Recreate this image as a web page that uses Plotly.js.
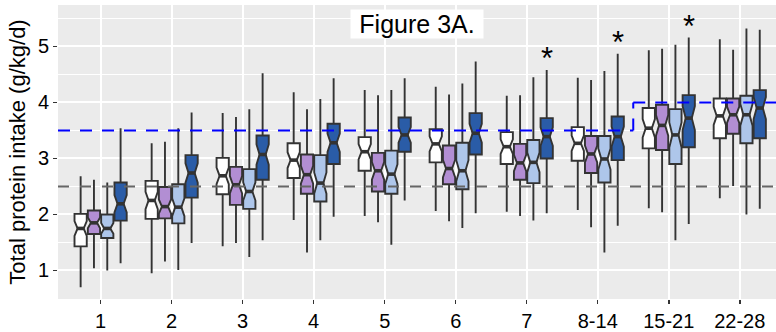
<!DOCTYPE html>
<html>
<head>
<meta charset="utf-8">
<script src="https://cdn.plot.ly/plotly-3.0.1.min.js"></script>
<style>
html,body{margin:0;padding:0;background:#fff;}
#chart{width:776px;height:332px;}
</style>
</head>
<body>
<div id="chart"></div>
<script>
// ---- data ----
var categories = ['1','2','3','4','5','6','7','8-14','15-21','22-28'];

var whiteLower  = [0.70, 0.95, 1.43, 1.90, 1.97, 2.06, 2.05, 2.08, 2.11, 2.29];
var whiteQ1     = [1.43, 1.92, 2.36, 2.65, 2.78, 2.93, 2.90, 2.96, 3.18, 3.36];
var whiteMedian = [1.75, 2.25, 2.69, 2.97, 3.12, 3.26, 3.21, 3.27, 3.54, 3.76];
var whiteQ3     = [2.01, 2.60, 3.01, 3.27, 3.38, 3.52, 3.47, 3.56, 3.90, 4.07];
var whiteUpper  = [2.68, 3.27, 3.81, 4.18, 4.22, 4.28, 4.12, 4.44, 4.93, 5.13];

var purpleLower  = [1.04, 1.16, 1.49, 1.32, 1.86, 1.88, 1.97, 1.77, 2.04, 2.51];
var purpleQ1     = [1.65, 1.93, 2.17, 2.37, 2.41, 2.54, 2.62, 2.74, 3.15, 3.44];
var purpleMedian = [1.85, 2.14, 2.53, 2.71, 2.78, 2.82, 2.92, 3.08, 3.59, 3.78];
var purpleQ3     = [2.07, 2.49, 2.85, 3.07, 3.10, 3.23, 3.26, 3.40, 3.96, 4.07];
var purpleUpper  = [2.62, 3.30, 3.74, 3.88, 4.13, 4.14, 4.13, 4.40, 4.96, 4.94];

var lightLower  = [1.00, 1.01, 1.24, 1.54, 1.46, 1.76, 1.89, 1.32, 1.54, 2.00];
var lightQ1     = [1.58, 1.84, 2.10, 2.23, 2.37, 2.45, 2.56, 2.57, 2.90, 3.27];
var lightMedian = [1.75, 2.13, 2.41, 2.56, 2.72, 2.78, 2.93, 2.99, 3.42, 3.78];
var lightQ3     = [2.00, 2.54, 2.81, 3.06, 3.14, 3.28, 3.33, 3.40, 3.88, 4.12];
var lightUpper  = [2.57, 3.54, 3.88, 4.06, 4.22, 4.34, 4.45, 4.56, 5.03, 5.32];

var darkLower  = [1.13, 1.49, 1.54, 1.96, 2.25, 2.02, 2.02, 1.80, 1.83, 2.10];
var darkQ1     = [1.89, 2.30, 2.62, 2.90, 3.12, 3.07, 3.00, 2.97, 3.20, 3.36];
var darkMedian = [2.19, 2.74, 3.07, 3.28, 3.42, 3.45, 3.39, 3.39, 3.72, 3.90];
var darkQ3     = [2.57, 3.06, 3.41, 3.62, 3.73, 3.81, 3.72, 3.75, 4.13, 4.22];
var darkUpper  = [3.54, 3.82, 4.52, 4.43, 4.43, 4.73, 4.58, 4.87, 5.16, 5.30];

var sampleSize = 48; // assumed n for the notch (median +/- 1.58*IQR/sqrt(n))

var starCategories = ['7','8-14','15-21'];
var starValues     = [4.88, 5.16, 5.44];

var lowRefValue   = 2.5;
var highRefValues = [3.5, 4.0];
var highRefBreak  = 7.5; // between '8-14' and '15-21'

var titleText = 'Figure 3A.';
var yTitle = 'Total protein intake (g/kg/d)';

// ---- build ----
var positions = categories.map(function (c, i) { return i; }); // discrete slots
var xRange = [-0.6, 9.51];
var yRange = [0.49, 5.74];
var FONT = 'Liberation Sans, Arial, Helvetica, sans-serif';
var BOXGAP = 0.25, BOXGROUPGAP = 0.08, NOTCHWIDTH = 0.25;
var nSeries = 4;
var slot = (1 - BOXGAP) / nSeries;
var boxHalf = slot * (1 - BOXGROUPGAP) / 2;
var medianHalf = boxHalf * (1 - 2 * NOTCHWIDTH) + 0.012;

function notch(q1, q3) {
  return q1.map(function (v, i) { return 1.58 * (q3[i] - v) / Math.sqrt(sampleSize); });
}
function boxTrace(name, color, lo, q1, med, q3, hi) {
  return {
    type: 'box', name: name, x: positions,
    lowerfence: lo, q1: q1, median: med, q3: q3, upperfence: hi,
    notched: true, notchspan: notch(q1, q3), notchwidth: NOTCHWIDTH,
    boxpoints: false, whiskerwidth: 0,
    fillcolor: color, line: { color: '#333333', width: 1.9 },
    showlegend: false, hoverinfo: 'skip'
  };
}
// thick median bars (ggplot draws the median with a fattened line)
function medianTrace(k, med) {
  var xs = [], ys = [];
  var off = (k + 0.5 - nSeries / 2) * slot;
  med.forEach(function (m, i) {
    xs.push(positions[i] + off - medianHalf, positions[i] + off + medianHalf, null);
    ys.push(m, m, null);
  });
  return { type: 'scatter', mode: 'lines', x: xs, y: ys,
    line: { color: '#333333', width: 3.6 }, showlegend: false, hoverinfo: 'skip' };
}
var traces = [
  boxTrace('white', '#FFFFFF', whiteLower, whiteQ1, whiteMedian, whiteQ3, whiteUpper),
  boxTrace('purple', '#B28ED3', purpleLower, purpleQ1, purpleMedian, purpleQ3, purpleUpper),
  boxTrace('light blue', '#AEC6EA', lightLower, lightQ1, lightMedian, lightQ3, lightUpper),
  boxTrace('dark blue', '#2A5CA7', darkLower, darkQ1, darkMedian, darkQ3, darkUpper),
  medianTrace(0, whiteMedian), medianTrace(1, purpleMedian),
  medianTrace(2, lightMedian), medianTrace(3, darkMedian)
];

var darkOffset = (nSeries - 1 + 0.5 - nSeries / 2) * slot;
var annotations = starCategories.map(function (c, i) {
  return {
    x: positions[categories.indexOf(c)] + darkOffset, y: starValues[i], xref: 'x', yref: 'y',
    text: '*', showarrow: false, yshift: -5,
    font: { family: FONT, size: 31, color: '#000' }
  };
});
annotations.push({
  x: 0.5, y: 1 - (24 - 5) / 294, xref: 'paper', yref: 'paper', text: titleText, showarrow: false,
  xanchor: 'center', yanchor: 'middle', bgcolor: '#FFFFFF', borderpad: 0,
  width: 132, height: 28, align: 'center', valign: 'middle',
  font: { family: FONT, size: 25, color: '#000' }
});

var dashBlue = '12px,10px';
var dashGray = '11px,11px';
var shapes = [
  { type: 'line', xref: 'paper', yref: 'y', x0: 0, x1: 1, y0: lowRefValue, y1: lowRefValue,
    line: { color: '#666666', width: 2, dash: dashGray } },
  { type: 'line', xref: 'x', yref: 'y', x0: xRange[0], x1: highRefBreak, y0: highRefValues[0], y1: highRefValues[0],
    line: { color: '#0000FF', width: 2, dash: dashBlue } },
  { type: 'line', xref: 'x', yref: 'y', x0: highRefBreak, x1: highRefBreak, y0: highRefValues[0], y1: highRefValues[1],
    line: { color: '#0000FF', width: 2, dash: dashBlue } },
  { type: 'line', xref: 'x', yref: 'y', x0: highRefBreak, x1: xRange[1], y0: highRefValues[1], y1: highRefValues[1],
    line: { color: '#0000FF', width: 2, dash: dashBlue } }
];

var layout = {
  width: 776, height: 332,
  margin: { l: 58, r: 0, t: 5, b: 33, pad: 0 },
  paper_bgcolor: '#FFFFFF', plot_bgcolor: '#EBEBEB',
  boxmode: 'group', boxgap: BOXGAP, boxgroupgap: BOXGROUPGAP,
  showlegend: false,
  font: { family: FONT, color: '#000' },
  xaxis: {
    type: 'linear', range: xRange, autorange: false,
    tickmode: 'array', tickvals: positions, ticktext: categories,
    showgrid: true, gridcolor: '#FFFFFF', gridwidth: 2,
    zeroline: false, showline: false,
    ticks: 'outside', ticklen: 4, tickwidth: 1.5, tickcolor: '#333333',
    tickfont: { family: FONT, size: 20, color: '#000' }
  },
  yaxis: {
    range: yRange, autorange: false, dtick: 1, tick0: 0,
    showgrid: true, gridcolor: '#FFFFFF', gridwidth: 2,
    minor: { dtick: 0.5, tick0: 0, showgrid: true, gridcolor: '#FFFFFF', gridwidth: 1, ticks: '' },
    zeroline: false, showline: false,
    ticks: 'outside', ticklen: 4, tickwidth: 1.5, tickcolor: '#333333',
    tickfont: { family: FONT, size: 20, color: '#000' },
    title: { text: yTitle, font: { family: FONT, size: 22, color: '#000' }, standoff: 6 }
  },
  annotations: annotations,
  shapes: shapes
};

Plotly.newPlot('chart', traces, layout, { displayModeBar: false, staticPlot: true });
</script>
</body>
</html>
